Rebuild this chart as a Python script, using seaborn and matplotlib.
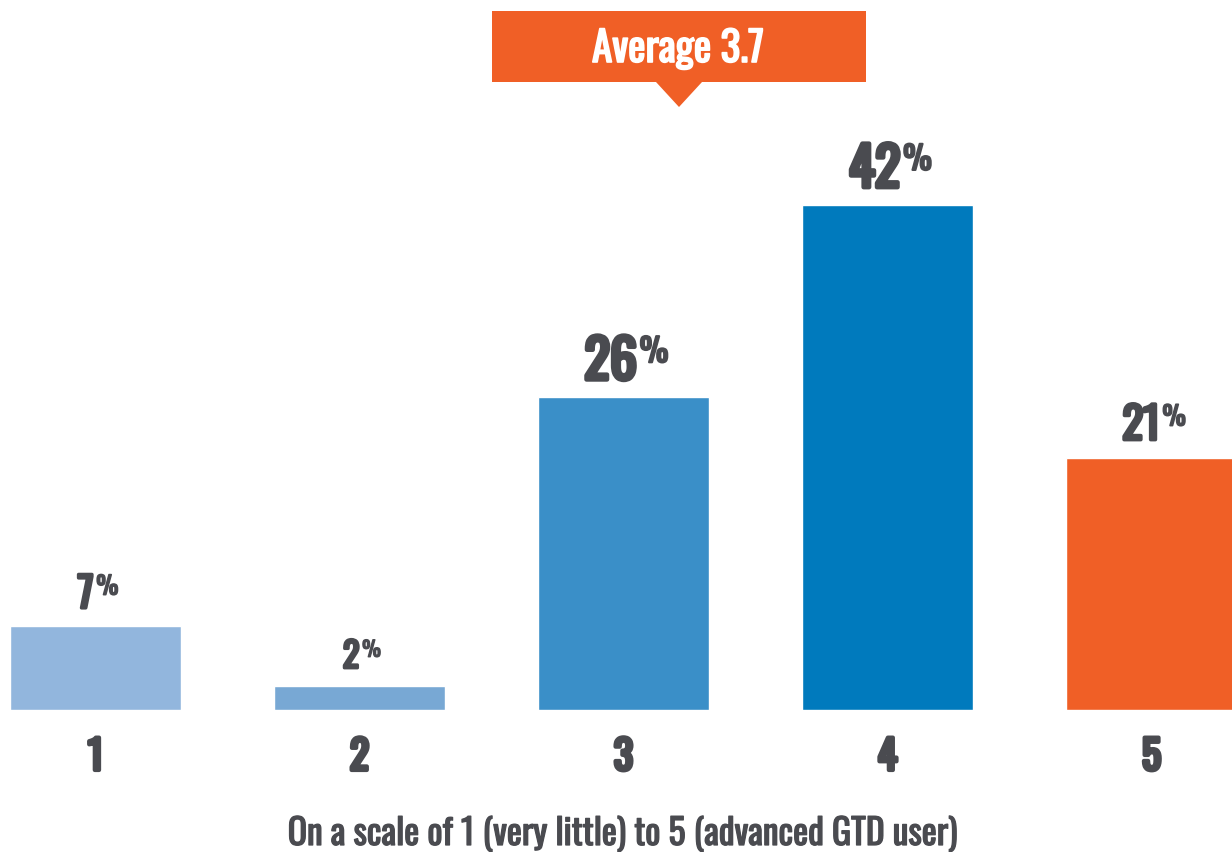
import matplotlib
matplotlib.use('Agg')
import matplotlib.pyplot as plt
import matplotlib.patheffects as pe
from matplotlib.patches import Rectangle, Polygon
import seaborn as sns
import pandas as pd

# ── Data ─────────────────────────────────────────────────────────────────────

categorii = ['1', '2', '3', '4', '5']
procente = [7, 2, 26, 42, 21]
medie = 3.7
titlu_x = 'On a scale of 1 (very little) to 5 (advanced GTD user)'

culori = ['#92B6DD', '#78A8D4', '#3A8FC8', '#007ABD', '#F05F26']
inaltimi_cifre = [33, 28, 43, 43, 35]   # px, etichetele cresc cu bara
GRI = '#4A4B50'
PORTOCALIU = '#F05F26'

sns.set_theme(style='white')
plt.rcParams['font.family'] = ['Oswald', 'Roboto Condensed', 'DejaVu Sans']

PX = 72 / 100      # pixeli -> puncte la dpi 100
CAP = 0.80         # inaltimea majusculelor / em (estimare)


def ingrosat(lat, culoare=GRI):
    # fontul e instalat doar cu greutatea normala, asa ca il ingrosam cu un contur
    return [pe.withStroke(linewidth=lat, foreground=culoare)]


# ── Figura ───────────────────────────────────────────────────────────────────

fig = plt.figure(figsize=(12.32, 8.53), dpi=100)
ax = fig.add_axes([0, (853 - 711) / 853, 1, 711 / 853])

df = pd.DataFrame({'scor': categorii, 'procent': procente})
sns.barplot(data=df, x='scor', y='procent', hue='scor', palette=culori,
            legend=False, width=171 / 264, ax=ax, saturation=1)

ax.set_xlim(-95.5 / 264, (1232 - 95.5) / 264)
ax.set_ylim(0, 711 / 12.02)
ax.set_ylabel('')
ax.set_xlabel('')
ax.set_yticks([])
sns.despine(ax=ax, left=True, bottom=True, top=True, right=True)
ax.tick_params(axis='x', length=0, pad=27 * PX)
for lbl in ax.get_xticklabels():
    lbl.set_fontsize(32 / CAP * PX)
    lbl.set_color(GRI)
    lbl.set_path_effects(ingrosat(3.0))

# etichete cu % ca exponent
for i, (val, h) in enumerate(zip(procente, inaltimi_cifre)):
    fs = h / CAP * PX
    t = ax.annotate(str(val), (i, val), xytext=(-h * 0.3 * PX, 18 * PX),
                    textcoords='offset points', ha='center', va='baseline',
                    fontsize=fs, color=GRI, path_effects=ingrosat(h * 0.075))
    ax.annotate('%', xy=(1, val), xycoords=(t, 'data'),
                xytext=(2, (18 + h - h * 0.6) * PX), textcoords='offset points',
                ha='left', va='baseline', fontsize=fs * 0.6, color=GRI,
                path_effects=ingrosat(h * 0.035))

fig.text(622 / 1232, 1 - 846 / 853, titlu_x, ha='center', va='baseline',
         fontsize=28.5 / CAP * PX, color=GRI, path_effects=ingrosat(0.9))

# caseta "Average"
fig.patches.append(Rectangle((492 / 1232, 1 - 83 / 853), 374 / 1232, 71 / 853,
                             transform=fig.transFigure, color=PORTOCALIU, lw=0))
fig.patches.append(Polygon([(656 / 1232, 1 - 83 / 853), (702 / 1232, 1 - 83 / 853),
                            (679 / 1232, 1 - 108 / 853)], closed=True,
                           transform=fig.transFigure, color=PORTOCALIU, lw=0))
fig.text(678 / 1232, 1 - 63 / 853, f'Average {medie}', ha='center', va='baseline',
         fontsize=33 / CAP * PX, color='white', path_effects=ingrosat(1.2, 'white'))

fig.savefig('out.png', dpi=100)
